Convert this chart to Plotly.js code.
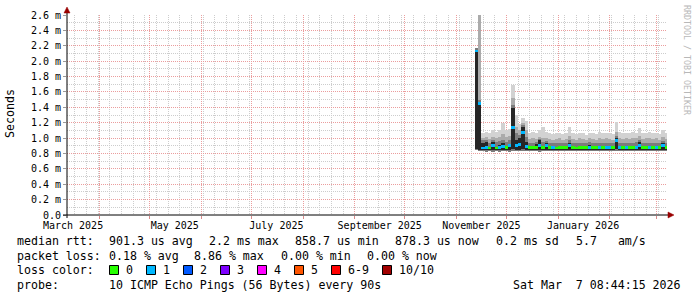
<!DOCTYPE html>
<html>
<head>
<meta charset="utf-8">
<script src="https://cdn.plot.ly/plotly-3.0.1.min.js"></script>
<style>
  html, body { margin: 0; padding: 0; background: #ffffff; }
  #chart { width: 697px; height: 297px; }
</style>
</head>
<body>
<div id="chart"></div>
<script>
// ---------------- data (values in milliseconds) ----------------
const dates = [
  '2025-11-13','2025-11-15','2025-11-17','2025-11-19','2025-11-21','2025-11-23','2025-11-25','2025-11-27','2025-11-29',
  '2025-12-01','2025-12-03','2025-12-05','2025-12-07','2025-12-09','2025-12-11','2025-12-13','2025-12-15','2025-12-17',
  '2025-12-19','2025-12-21','2025-12-23','2025-12-25','2025-12-27','2025-12-29','2025-12-31',
  '2026-01-02','2026-01-04','2026-01-06','2026-01-08','2026-01-10','2026-01-12','2026-01-14','2026-01-16','2026-01-18',
  '2026-01-20','2026-01-22','2026-01-24','2026-01-26','2026-01-28','2026-01-30',
  '2026-02-01','2026-02-03','2026-02-05','2026-02-07','2026-02-09','2026-02-11','2026-02-13','2026-02-15','2026-02-17',
  '2026-02-19','2026-02-21','2026-02-23','2026-02-25','2026-02-27',
  '2026-03-01','2026-03-03','2026-03-05','2026-03-07'
];
// lowest ping (bottom of smoke)
const minRtt = [
  0.84,0.83,0.83,0.82,0.83,0.82,0.83,0.82,0.83,
  0.83,0.82,0.83,0.83,0.83,0.83,0.83,0.83,0.83,
  0.83,0.82,0.83,0.83,0.83,0.83,0.83,
  0.83,0.83,0.83,0.83,0.83,0.83,0.83,0.83,0.83,
  0.83,0.83,0.83,0.83,0.83,0.83,
  0.83,0.83,0.83,0.83,0.83,0.83,0.83,0.83,0.83,
  0.83,0.83,0.83,0.83,0.83,
  0.83,0.83,0.83,0.83
];
// highest ping (top of light smoke)
const maxRtt = [
  2.17,2.60,1.06,1.08,1.06,1.10,1.08,1.11,1.20,
  1.10,1.12,1.69,1.30,1.18,1.26,1.22,1.06,1.08,
  1.07,1.10,1.14,1.08,1.06,1.05,1.07,
  1.06,1.05,1.07,1.15,1.06,1.05,1.07,1.06,1.04,
  1.07,1.06,1.05,1.08,1.06,1.07,
  1.06,1.05,1.21,1.08,1.06,1.07,1.06,1.08,1.07,
  1.13,1.06,1.07,1.08,1.06,
  1.07,1.05,1.10,1.06
];
// 2nd highest ping (top of medium smoke)
const upperRtt = [
  2.17,2.60,1.00,1.01,0.99,1.02,1.00,1.02,1.05,
  1.02,1.03,1.52,1.15,1.10,1.20,1.10,0.99,1.00,
  0.99,1.02,1.00,1.00,0.99,0.98,0.99,
  1.00,0.98,0.99,1.03,0.99,0.98,1.00,0.99,0.98,
  1.00,0.99,0.98,1.00,0.99,1.00,
  0.99,0.98,1.08,1.00,0.99,1.00,0.99,1.00,1.00,
  1.03,0.99,1.00,1.00,0.99,
  1.00,0.98,1.02,0.99
];
// 3rd highest ping (top of dark smoke)
const innerRtt = [
  2.17,1.50,0.97,0.97,0.94,0.97,0.95,0.96,0.98,
  0.95,0.97,1.43,1.06,1.04,1.17,1.02,0.93,0.94,
  0.95,0.99,0.95,0.96,0.94,0.93,0.94,
  0.94,0.93,0.94,0.97,0.94,0.93,0.94,0.93,0.93,
  0.95,0.94,0.93,0.94,0.93,0.94,
  0.94,0.93,1.03,0.94,0.93,0.94,0.94,0.94,0.95,
  0.97,0.93,0.94,0.94,0.93,
  0.94,0.93,0.96,0.94
];
// central pings (core of smoke)
const coreLow = [
  0.86,0.85,0.85,0.85,0.845,0.85,0.845,0.85,0.85,
  0.845,0.85,0.86,0.85,0.85,0.86,0.85,0.845,0.845,
  0.845,0.85,0.845,0.85,0.845,0.845,0.845,
  0.845,0.845,0.845,0.85,0.845,0.845,0.845,0.845,0.845,
  0.85,0.845,0.845,0.85,0.845,0.85,
  0.845,0.845,0.86,0.845,0.845,0.85,0.845,0.845,0.85,
  0.85,0.845,0.845,0.85,0.845,
  0.85,0.845,0.85,0.845
];
const coreHigh = [
  2.15,1.46,0.93,0.95,0.89,0.95,0.89,0.91,0.93,
  0.90,0.92,1.39,0.98,1.00,1.14,0.95,0.89,0.90,
  0.92,0.97,0.90,0.94,0.89,0.89,0.89,
  0.90,0.89,0.89,0.94,0.89,0.89,0.89,0.89,0.89,
  0.91,0.89,0.89,0.90,0.89,0.90,
  0.89,0.89,1.00,0.90,0.89,0.90,0.89,0.89,0.90,
  0.95,0.89,0.89,0.90,0.89,
  0.90,0.89,0.94,0.89
];
// median rtt
const medianRtt = [
  2.13,1.45,0.87,0.88,0.87,0.90,0.87,0.88,0.89,
  0.875,0.90,1.14,0.90,0.92,1.07,0.89,0.875,0.875,
  0.88,0.90,0.875,0.90,0.875,0.875,0.87,
  0.875,0.875,0.875,0.90,0.875,0.87,0.875,0.875,0.875,
  0.88,0.875,0.875,0.88,0.875,0.88,
  0.875,0.875,0.97,0.88,0.875,0.88,0.875,0.875,0.88,
  0.90,0.875,0.875,0.88,0.875,
  0.88,0.875,0.90,0.875
];
// lost pings out of 10
const lostPings = [
  1,1,1,1,0,1,0,1,1,
  0,1,1,1,1,1,1,0,0,
  0,1,0,1,0,1,0,
  0,0,0,1,0,0,0,0,0,
  1,0,0,1,0,1,
  1,0,1,1,0,1,0,0,1,
  1,0,0,1,0,
  1,0,1,0
];

const yTickVals = [0,0.2,0.4,0.6,0.8,1.0,1.2,1.4,1.6,1.8,2.0,2.2,2.4,2.6];
const yTickText = ['0.0','0.2 m','0.4 m','0.6 m','0.8 m','1.0 m','1.2 m','1.4 m','1.6 m','1.8 m','2.0 m','2.2 m','2.4 m','2.6 m'];
const monthLabelDates = ['2025-03-16','2025-05-16','2025-07-16','2025-09-16','2025-11-16','2026-01-16'];
const monthLabelText = ['March 2025','May 2025','July 2025','September 2025','November 2025','January 2026'];

const lossColors = ['#26ff00','#00b8ff','#0059ff','#7e00ff','#ff00ff','#ff5500','#ff0000','#a10000'];
const lossLabels = ['0','1','2','3','4','5','6-9','10/10'];

const statsRtt = ['median rtt:','901.3 us avg','2.2 ms max','858.7 us min','878.3 us now','0.2 ms sd','5.7   am/s'];
const statsLoss = ['packet loss:','0.18 % avg','8.86 % max','0.00 % min','0.00 % now'];
const probeText = ['probe:','10 ICMP Echo Pings (56 Bytes) every 90s','Sat Mar  7 08:44:15 2026'];

// ---------------- geometry helpers ----------------
const PL = 67, PT = 15, PW = 600, PH = 200;
const px = v => (v - PL) / PW;            // pixel x -> paper x
const py = v => (PT + PH - v) / PH;        // pixel y -> paper y
const BIN_MS = 2 * 86400000;
const MONO = 'DejaVu Sans Mono, monospace';
const X_RANGE = ['2025-03-12 08:44:15', '2026-03-07 08:44:15'];

function band(lo, hi, color) {
  return {
    type: 'bar', x: dates, base: lo, y: hi.map((h, i) => h - lo[i]),
    width: BIN_MS, marker: {color: color, line: {width: 0}},
    hoverinfo: 'skip', showlegend: false
  };
}
function lossIndex(n) { return n >= 10 ? 7 : (n >= 6 ? 6 : n); }

const MED_H = 0.034;
const traces = [
  band(minRtt, maxRtt, '#d2d2d2'),
  band(minRtt, upperRtt, '#ababab'),
  band(minRtt, innerRtt, '#7c7c7c'),
  band(coreLow, coreHigh, '#262626'),
  {
    type: 'bar', xaxis: 'x2', yaxis: 'y',
    x: dates, base: medianRtt.map(m => m - MED_H / 2),
    y: medianRtt.map(() => MED_H), width: BIN_MS,
    marker: {color: lostPings.map(n => lossColors[lossIndex(n)]), line: {width: 0}},
    hoverinfo: 'skip', showlegend: false
  }
];

// ---------------- annotations ----------------
const ann = [];
function txt(x, y, t, opts) {
  ann.push(Object.assign({
    xref: 'paper', yref: 'paper', x: px(x), y: py(y), text: t, showarrow: false,
    xanchor: 'left', yanchor: 'middle', borderpad: 0,
    font: {family: MONO, size: 11.6, color: '#000'}
  }, opts || {}));
}
const rttX = [16, 108, 208, 294, 394, 495, 575];
statsRtt.forEach((t, i) => txt(rttX[i], 241, t));
const lossX = [16, 108, 193, 280, 366];
statsLoss.forEach((t, i) => txt(lossX[i], 255.5, t));
txt(16, 270, 'loss color:');
const boxX = [109.5, 146.5, 183.5, 220.5, 257.5, 294.5, 331.5, 382.5];
lossLabels.forEach((t, i) => txt(boxX[i] + 15, 270, t));
txt(16, 284.5, probeText[0]);
txt(108, 284.5, probeText[1]);
txt(682, 284.5, probeText[2], {xanchor: 'right'});
txt(10, 114, 'Seconds', {xanchor: 'center', textangle: -90});
txt(687, 60, 'RRDTOOL / TOBI OETIKER', {xanchor: 'center', textangle: 90,
  font: {family: MONO, size: 8.3, color: '#b8b8b8'}});

// ---------------- shapes (axes, arrows, legend boxes) ----------------
const shapes = [];
const AX = '#000000', ARROW = '#990000';
shapes.push({type: 'line', xref: 'paper', yref: 'paper', x0: px(67), x1: px(67), y0: py(218), y1: py(12), line: {color: AX, width: 1}});
shapes.push({type: 'line', xref: 'paper', yref: 'paper', x0: px(63), x1: px(669), y0: py(215), y1: py(215), line: {color: AX, width: 1}});
shapes.push({type: 'path', xref: 'paper', yref: 'paper',
  path: `M ${px(64)},${py(13)} L ${px(70)},${py(13)} L ${px(67)},${py(7)} Z`,
  fillcolor: ARROW, line: {color: ARROW, width: 0.5}});
shapes.push({type: 'path', xref: 'paper', yref: 'paper',
  path: `M ${px(668)},${py(212)} L ${px(668)},${py(218)} L ${px(674)},${py(215)} Z`,
  fillcolor: ARROW, line: {color: ARROW, width: 0.5}});
boxX.forEach((x, i) => shapes.push({type: 'rect', xref: 'paper', yref: 'paper',
  x0: px(x), x1: px(x + 9), y0: py(274.5), y1: py(265.5),
  fillcolor: lossColors[i], line: {color: '#000', width: 1}}));

const layout = {
  width: 697, height: 297,
  margin: {l: PL, r: 697 - PL - PW, t: PT, b: 297 - PT - PH, pad: 0},
  paper_bgcolor: '#ffffff', plot_bgcolor: '#ffffff',
  barmode: 'overlay', bargap: 0,
  showlegend: false,
  font: {family: MONO, size: 10, color: '#000'},
  xaxis: {
    type: 'date', range: X_RANGE,
    showticklabels: false, ticks: 'outside', ticklen: 3, tickcolor: '#d88a8a',
    tick0: '2025-04-01', dtick: 'M1',
    showgrid: true, gridcolor: '#eb9d9d', griddash: '1px,1px', gridwidth: 1,
    minor: {dtick: 7 * 86400000, tick0: '2025-03-31', showgrid: true,
            gridcolor: '#cdcdcd', griddash: '1px,1px', ticks: ''},
    showline: false, zeroline: false, fixedrange: true
  },
  xaxis2: {
    type: 'date', overlaying: 'x', anchor: 'y', side: 'bottom',
    range: X_RANGE,
    tickmode: 'array', tickvals: monthLabelDates, ticktext: monthLabelText,
    ticks: '', ticklabelstandoff: 3, showgrid: false, zeroline: false, showline: false,
    tickfont: {family: MONO, size: 10, color: '#000'}, fixedrange: true
  },
  yaxis: {
    range: [0, 2.6], tickmode: 'array', tickvals: yTickVals, ticktext: yTickText,
    ticks: 'outside', ticklen: 3, tickcolor: '#999999',
    tickfont: {family: MONO, size: 10, color: '#000'},
    showgrid: true, gridcolor: '#eb9d9d', griddash: '1px,1px', gridwidth: 1,
    minor: {dtick: 0.1, tick0: 0, showgrid: true, gridcolor: '#cdcdcd', griddash: '1px,1px', ticks: ''},
    showline: false, zeroline: false, fixedrange: true
  },
  annotations: ann,
  shapes: shapes
};

Plotly.newPlot('chart', traces, layout, {displayModeBar: false, staticPlot: true});
</script>
</body>
</html>
